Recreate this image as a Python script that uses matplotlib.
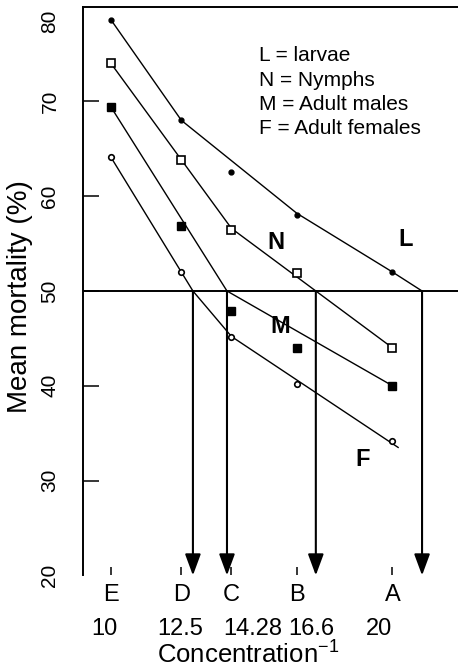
import numpy as np
import matplotlib
matplotlib.use("Agg")
import matplotlib.pyplot as plt
from matplotlib.transforms import ScaledTranslation

plt.rcParams['font.family'] = ['Liberation Sans', 'DejaVu Sans']
plt.rcParams['mathtext.fontset'] = 'custom'
plt.rcParams['mathtext.rm'] = 'Liberation Sans'

# ---------------- data ----------------
letters = ['E', 'D', 'C', 'B', 'A']
conc = [10, 12.5, 14.28, 16.6, 20]
conc_labels = ['10', '12.5', '14.28', '16.6', '20']

larvae = [78.6, 68.0, 62.6, 58.0, 52.0]
nymphs = [74.0, 63.8, 56.4, 51.9, 44.0]
males = [69.4, 56.9, 47.9, 44.0, 40.0]
females = [64.1, 52.0, 45.1, 40.2, 34.2]

# fitted (hand-drawn) lines
larvae_fit_x = [10, 12.5, 16.6, 20, 21.05]
larvae_fit_y = [78.6, 68.0, 58.2, 52.0, 50.0]
nymphs_fit_x = [10, 14.28, 20]
nymphs_fit_y = [74.0, 56.6, 44.0]
males_fit_x = [10, 14.12, 20]
males_fit_y = [69.4, 50.0, 40.0]
females_fit_x = [10, 12.91, 14.28, 20.2]
females_fit_y = [64.1, 50.0, 45.2, 33.5]

lc50 = 50
y_ticks = [20, 30, 40, 50, 60, 70, 80]
legend_lines = ['L = larvae', 'N = Nymphs', 'M = Adult males', 'F = Adult females']
series_letters = ['L', 'N', 'M', 'F']

# ---------------- figure ----------------
W, H = 458, 669
fig = plt.figure(figsize=(W / 100, H / 100), dpi=100)
ax = fig.add_axes([83 / W, 93.6 / H, 375 / W, 568.8 / H])
ax.set_xlim(9.005, 22.327)
ax.set_ylim(20, 80)

for s in ['right', 'bottom']:
    ax.spines[s].set_visible(False)
for s in ['left', 'top']:
    ax.spines[s].set_linewidth(1.4)

line_kw = dict(color='black', lw=1.0, zorder=2)
ax.plot(larvae_fit_x, larvae_fit_y, **line_kw)
ax.plot(nymphs_fit_x, nymphs_fit_y, **line_kw)
ax.plot(males_fit_x, males_fit_y, **line_kw)
ax.plot(females_fit_x, females_fit_y, **line_kw)

ax.plot(conc, larvae, 'o', color='black', ms=3.5, zorder=3)
ax.plot(conc, nymphs, 's', mfc='white', mec='black', mew=1.2, ms=5.8, zorder=3)
ax.plot(conc, males, 's', color='black', ms=5.6, zorder=3)
ax.plot(conc, females, 'o', mfc='white', mec='black', mew=1.2, ms=4, zorder=3)

ax.axhline(lc50, color='black', lw=1.4, zorder=2)

# arrows from LC50 crossings
def crossing(xs, ys, level):
    xs = np.asarray(xs, float); ys = np.asarray(ys, float)
    for i in range(len(xs) - 1):
        y0, y1 = ys[i], ys[i + 1]
        if (y0 - level) * (y1 - level) <= 0 and y0 != y1:
            return xs[i] + (level - y0) / (y1 - y0) * (xs[i + 1] - xs[i])
    return xs[-1]

for fx, fy in [(females_fit_x, females_fit_y), (males_fit_x, males_fit_y),
               (nymphs_fit_x, nymphs_fit_y), (larvae_fit_x, larvae_fit_y)]:
    xc = crossing(fx, fy, lc50)
    ax.annotate('', xy=(xc, 20), xytext=(xc, lc50),
                arrowprops=dict(arrowstyle='-|>,head_width=0.48,head_length=1.3',
                                lw=1.5, color='black', shrinkA=0, shrinkB=0,
                                mutation_scale=10),
                annotation_clip=False, zorder=4)

# y axis
ax.set_yticks(y_ticks)
ax.set_yticklabels([str(v) for v in y_ticks], rotation=90, va='center')
ax.tick_params(axis='y', direction='in', length=11.5, width=1.1, pad=17, labelsize=15)
yt = ax.yaxis.get_major_ticks()
yt[0].tick1line.set_visible(False)
yt[-1].tick1line.set_visible(False)
lab80 = ax.get_yticklabels()[-1]
lab80.set_transform(lab80.get_transform() + ScaledTranslation(0, -15 / 100, fig.dpi_scale_trans))
ax.set_ylabel('Mean mortality (%)', fontsize=20, va='center')
ax.yaxis.set_label_coords(-0.168, 0.49)

# x axis
ax.set_xticks(conc)
ax.set_xticklabels(letters)
ax.tick_params(axis='x', direction='in', length=6, width=1.1, pad=6.5, labelsize=17)
number_shift_pt = [-5, -1, 15, 10.5, -10]
for c, lab, sh in zip(conc, conc_labels, number_shift_pt):
    ax.annotate(lab, xy=(c, 0), xycoords=('data', 'axes fraction'),
                xytext=(sh, -38.5), textcoords='offset points',
                ha='center', va='center', fontsize=17, annotation_clip=False)
ax.set_xlabel('Concentration$^{\\mathregular{-1}}$', fontsize=18.5, va='center')
ax.xaxis.set_label_coords(0.44, -0.137)

# legend text
for i, t in enumerate(legend_lines):
    fig.text(259 / W, 1 - (55.5 + 24.5 * i) / H, t, fontsize=15, ha='left', va='center')

# series letters
letter_pos = [(20.48, 55.4), (15.86, 55.1), (16.0, 46.3), (18.95, 32.2)]
for s, (x, y) in zip(series_letters, letter_pos):
    ax.text(x, y, s, fontsize=17, fontweight='bold', ha='center', va='center')

fig.savefig('out.png', dpi=100)
